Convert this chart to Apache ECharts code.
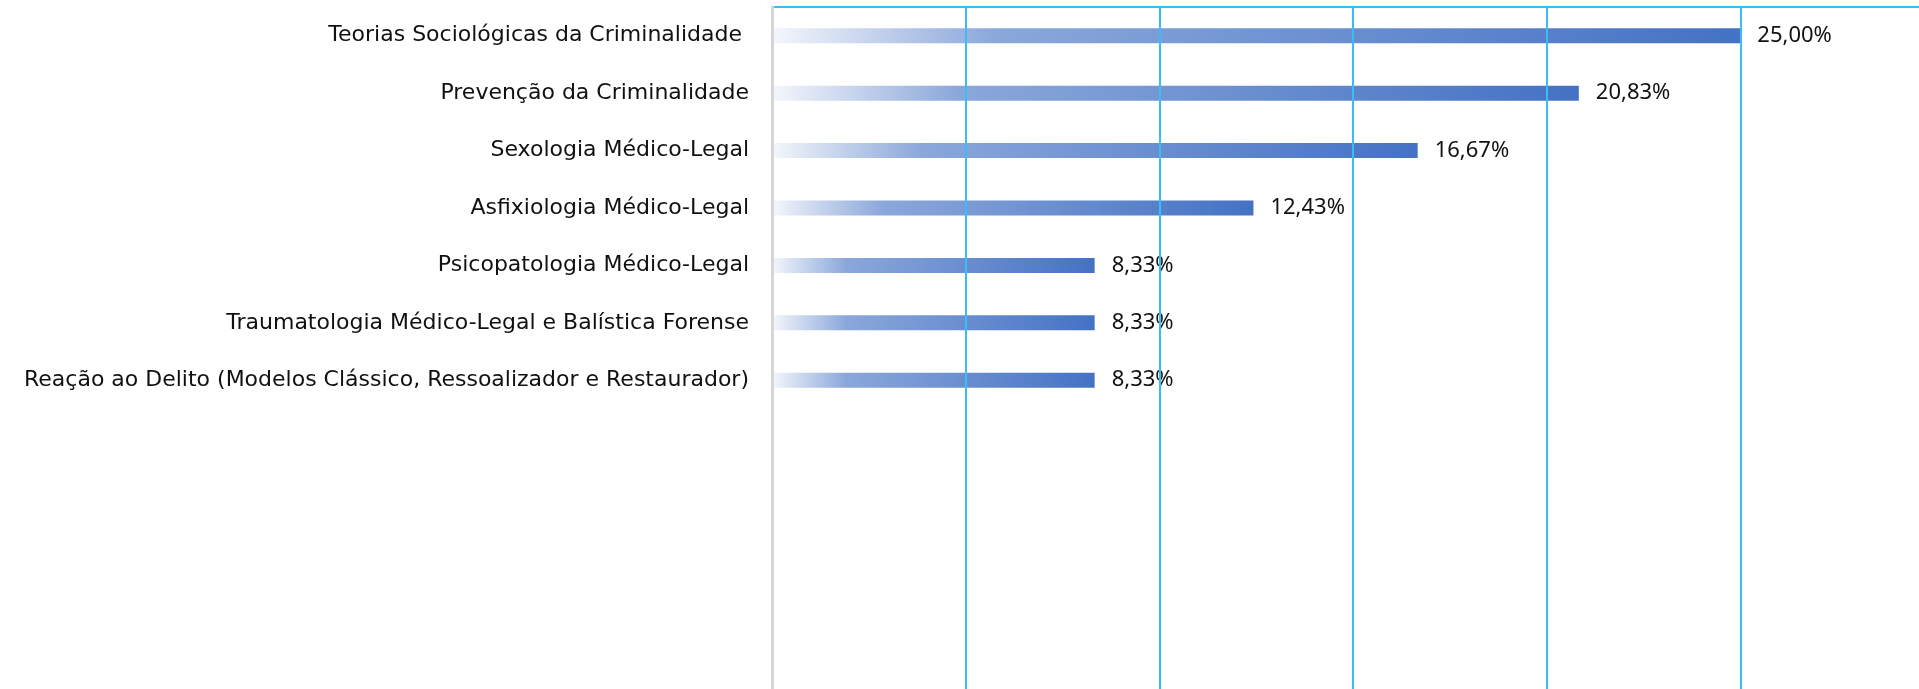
<!DOCTYPE html>
<html>
<head>
<meta charset="utf-8">
<script src="https://cdn.jsdelivr.net/npm/echarts@6/dist/echarts.min.js"></script>
<style>
  html, body { margin: 0; padding: 0; background: #fff; }
  #chart { width: 1919px; height: 689px; }
</style>
</head>
<body>
<div id="chart"></div>
<script>
// categorias (de cima para baixo)
var categories = [
  "Teorias Sociológicas da Criminalidade ",
  "Prevenção da Criminalidade",
  "Sexologia Médico-Legal",
  "Asfixiologia Médico-Legal",
  "Psicopatologia Médico-Legal",
  "Traumatologia Médico-Legal e Balística Forense",
  "Reação ao Delito (Modelos Clássico, Ressoalizador e Restaurador)"
];
var percentuais = [25.00, 20.83, 16.67, 12.43, 8.33, 8.33, 8.33];

var chart = echarts.init(document.getElementById("chart"));

var option = {
  animation: false,
  textStyle: {
    fontFamily: "Noto Sans"
  },
  grid: {
    left: 772,
    right: -15,
    top: 7,
    bottom: -7,
    outerBoundsMode: "none"
  },
  xAxis: {
    type: "value",
    position: "top",
    min: 0,
    max: 30,
    interval: 5,
    z: 10,
    axisLabel: { show: false },
    axisTick: { show: false },
    axisLine: {
      show: true,
      lineStyle: { color: "#3bbcf4", width: 2 }
    },
    splitLine: {
      show: true,
      lineStyle: { color: "#3bbcf4", width: 2 }
    }
  },
  yAxis: {
    type: "category",
    inverse: true,
    data: categories,
    max: 11, // espaço vazio abaixo das barras
    z: 12,
    axisTick: { show: false },
    axisLine: {
      show: true,
      lineStyle: { color: "#d6d6d6", width: 3 }
    },
    axisLabel: {
      color: "#111",
      fontFamily: "DejaVu Sans",
      fontSize: 22,
      margin: 23
    }
  },
  series: [
    {
      type: "bar",
      data: percentuais,
      barWidth: 15,
      itemStyle: {
        color: new echarts.graphic.LinearGradient(0, 0, 1, 0, [
          { offset: 0, color: "rgba(68,114,196,0.06)" },
          { offset: 0.23, color: "rgba(68,114,196,0.62)" },
          { offset: 1, color: "rgba(68,114,196,1)" }
        ])
      },
      label: {
        show: true,
        position: "right",
        distance: 17,
        color: "#111",
        fontSize: 22,
        formatter: function (p) {
          return p.value.toFixed(2).replace(".", ",") + "%";
        }
      }
    }
  ]
};

chart.setOption(option);
window.addEventListener("resize", function () {
  chart.resize();
});
</script>
</body>
</html>
